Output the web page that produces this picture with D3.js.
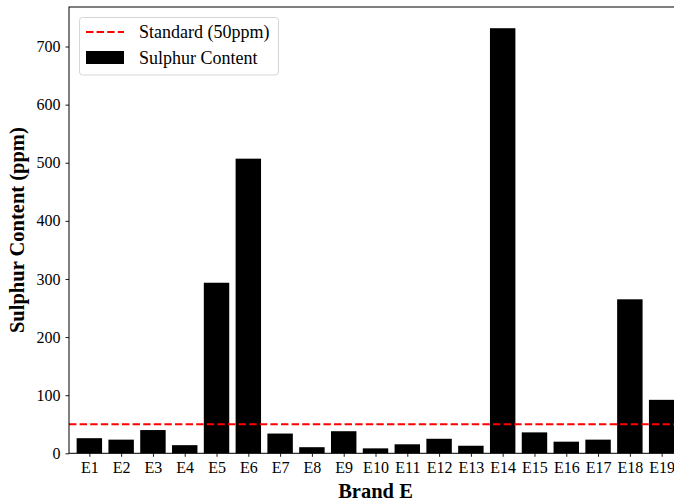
<!DOCTYPE html>
<html><head><meta charset="utf-8">
<script src="https://cdn.jsdelivr.net/npm/d3@7"></script>
<style>body{margin:0;background:#fff}svg{display:block}</style>
</head><body>
<script>
const categories = ["E1","E2","E3","E4","E5","E6","E7","E8","E9","E10","E11","E12","E13","E14","E15","E16","E17","E18","E19"];
const sulphur = [26,23.5,40,14,293.5,507,34,10.5,38,8.5,15.5,25,13,731.5,36,20,23.5,265,92];
const standard = 50;
const yTicks = [0,100,200,300,400,500,600,700];

(function(){
const W = 674, H = 504;
const mL = 69, mT = 7, mB = 453.3, mR = 682;
const svg = d3.select("body").append("svg").attr("width", W).attr("height", H);

const x = d3.scaleLinear().domain([-0.64, categories.length - 1 + 0.64]).range([mL, mR]);
const y = d3.scaleLinear().domain([0, 768]).range([mB, mT]);
const font = "'Liberation Serif','Times New Roman',serif";

// bars
svg.append("g").selectAll("rect").data(sulphur).join("rect")
  .attr("x", (d,i) => x(i - 0.4)).attr("width", x(0.8) - x(0))
  .attr("y", d => y(d)).attr("height", d => y(0) - y(d))
  .attr("fill", "#000");

// standard line
svg.append("line").attr("x1", mL).attr("x2", mR)
  .attr("y1", y(standard)).attr("y2", y(standard))
  .attr("stroke", "#ff0000").attr("stroke-width", 2).attr("stroke-dasharray", "7.4,3.2");

// axes
const xAxis = d3.axisBottom(x).tickValues(d3.range(categories.length))
  .tickFormat(i => categories[i]).tickSize(3.5).tickPadding(5);
const gx = svg.append("g").attr("transform", `translate(0,${mB})`).call(xAxis);
gx.select(".domain").remove();
const yAxis = d3.axisLeft(y).tickValues(yTicks).tickSize(3.5).tickPadding(5);
const gy = svg.append("g").attr("transform", `translate(${mL},0)`).call(yAxis);
gy.select(".domain").remove();
[gx, gy].forEach(g => {
  g.selectAll("text").attr("font-family", font).attr("font-size", 16).attr("fill", "#000");
  g.selectAll("line").attr("stroke", "#000").attr("stroke-width", 0.9);
});

// spines
svg.append("rect").attr("x", mL).attr("y", mT).attr("width", mR - mL).attr("height", mB - mT)
  .attr("fill", "none").attr("stroke", "#000").attr("stroke-width", 1);

// axis titles
svg.append("text").attr("x", (mL + mR) / 2).attr("y", 498)
  .attr("text-anchor", "middle").attr("font-family", font).attr("font-weight", "bold")
  .attr("font-size", 20.5).text("Brand E");
svg.append("text").attr("transform", `translate(24,${(mT + mB) / 2}) rotate(-90)`)
  .attr("text-anchor", "middle").attr("font-family", font).attr("font-weight", "bold")
  .attr("font-size", 20.5).text("Sulphur Content (ppm)");

// legend
const lg = svg.append("g");
lg.append("rect").attr("x", 79.5).attr("y", 17.5).attr("width", 199).attr("height", 57.5)
  .attr("rx", 3).attr("fill", "#fff").attr("fill-opacity", 0.8).attr("stroke", "#d6d6d6");
lg.append("line").attr("x1", 86).attr("x2", 124).attr("y1", 32).attr("y2", 32)
  .attr("stroke", "#ff0000").attr("stroke-width", 2).attr("stroke-dasharray", "7.4,3.2");
lg.append("rect").attr("x", 86).attr("y", 51).attr("width", 38).attr("height", 13).attr("fill", "#000");
lg.append("text").attr("x", 139).attr("y", 38).attr("font-family", font).attr("font-size", 18).text("Standard (50ppm)");
lg.append("text").attr("x", 139).attr("y", 64).attr("font-family", font).attr("font-size", 18).text("Sulphur Content");
})();
</script>
</body></html>
